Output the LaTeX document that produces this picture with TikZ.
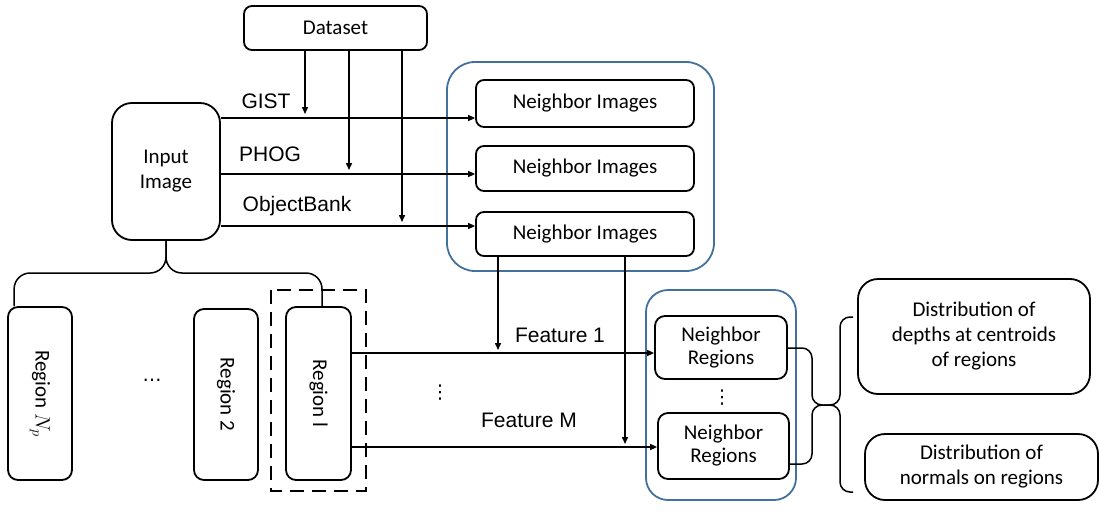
\documentclass[tikz,border=0pt]{standalone}
\usepackage{fontspec}
\setmainfont{Carlito}
\newfontfamily\arialf{Liberation Sans}
\newfontfamily\symf{DejaVu Sans}
\usetikzlibrary{arrows.meta,calc}
\definecolor{frameblue}{HTML}{41719C}
\begin{document}
\begin{tikzpicture}[x=1pt,y=-1pt,
  txt/.style={font=\fontsize{21}{25}\selectfont},
  lbl/.style={font=\arialf\fontsize{21}{25}\selectfont, inner sep=0pt},
  box/.style={draw, line width=1.8pt, rounded corners=8pt, align=center, inner sep=0pt, txt},
  group/.style={draw=frameblue, line width=1.8pt},
  conn/.style={line width=1.5pt},
  arr/.style={conn, -{Triangle[length=7pt,width=6pt]}},
  regbox/.style={box, rotate=-90, rounded corners=10pt},
  dotmark/.style={inner sep=0pt, font=\symf\fontsize{19}{20}\selectfont}]
\useasboundingbox (0,0) rectangle (1100,514);

% groups of neighbours
\draw[group, rounded corners=28pt] (447,62) rectangle (714,271);
\draw[group, rounded corners=22pt] (646,290) rectangle (796,500);
\draw[line width=1.8pt, dash pattern=on 14pt off 8pt] (271,290) rectangle (366,491);

% boxes
\node[box, minimum width=183pt, minimum height=44pt] (ds) at (335.5,28) {Dataset};
\node[box, rounded corners=20pt, minimum width=108pt, minimum height=137pt] (inp) at (166,171.5) {Input\\Image};
\node[box, minimum width=218pt, minimum height=47pt] (ni1) at (585,103.5) {Neighbor Images};
\node[box, minimum width=218pt, minimum height=45pt] (ni2) at (585,168.5) {Neighbor Images};
\node[box, minimum width=218pt, minimum height=44pt] (ni3) at (585,234) {Neighbor Images};

% region boxes (turned: west is the top edge, north the right edge)
\node[regbox, minimum width=173pt, minimum height=64pt] (rn) at (40,393.5) {Region $N_p$};
\node[regbox, minimum width=171pt, minimum height=64pt] (r2) at (226,394.5) {Region 2};
\node[regbox, minimum width=173pt, minimum height=65pt] (rl) at (318.5,393.5) {Region l};

\node[box, rounded corners=10pt, minimum width=132pt, minimum height=63pt] (nr1) at (721,347.5) {Neighbor\\[-2pt]Regions};
\node[box, rounded corners=10pt, minimum width=131pt, minimum height=66pt] (nr2) at (723.5,446) {Neighbor\\[-2pt]Regions};

\node[box, rounded corners=20pt, minimum width=232pt, minimum height=115pt] (d1) at (974,336.5) {Distribution of\\depths at centroids\\of regions};
\node[box, rounded corners=20pt, minimum width=233pt, minimum height=66pt] (d2) at (981.5,467) {Distribution of\\normals on regions};

% dots
\node[dotmark] (dh) at (152,380) {…};
\node[dotmark] (dv1) at (440,393) {⋮};
\node[dotmark] (dv2) at (722,398) {⋮};

% feature labels
\node[lbl] (lg) at (266,101) {GIST};
\node[lbl] (lp) at (270,154) {PHOG};
\node[lbl] (lo) at (297,206) {ObjectBank};
\node[lbl] (lf1) at (560,335) {Feature 1};
\node[lbl] (lfm) at (529,420) {Feature M};

% input image to neighbour images
\coordinate (h1) at (inp.east |- 0,118);
\coordinate (h2) at (inp.east |- 0,174);
\coordinate (h3) at (inp.east |- 0,226);
\draw[arr] (h1) -- (ni1.west |- h1);
\draw[arr] (h2) -- (ni2.west |- h2);
\draw[arr] (h3) -- (ni3.west |- h3);

% dataset feeds
\draw[arr] (ds.south -| 305,0) -- (305,114);
\draw[arr] (ds.south -| 349,0) -- (349,170);
\draw[arr] (ds.south -| 402,0) -- (402,222);

% input image split into regions
\coordinate (rnt) at ($(rn.south west)+(7,0)$);
\coordinate (rlt) at ($(rl.west)+(3.5,0)$);
\draw[conn, rounded corners=16pt] (inp.south) -- (inp.south |- 0,273) -- (rnt |- 0,273) -- (rnt);
\draw[conn, rounded corners=16pt] (inp.south) -- (inp.south |- 0,273) -- (rlt |- 0,273) -- (rlt);

% region features to neighbour regions
\coordinate (f1) at (rl.north |- 0,353);
\coordinate (fm) at (rl.north |- 0,447);
\draw[arr] (f1) -- (nr1.west |- f1);
\draw[arr] (fm) -- (nr2.west |- fm);
\draw[arr] (ni3.south -| 498,0) -- (498,350);
\draw[arr] (ni3.south -| 625,0) -- (625,444);

% braces to the distributions
\coordinate (tip) at (828,405);
\draw[conn, rounded corners=10pt] (nr1.east |- 0,348) -- (812,348) -- (812,405) -- (tip);
\draw[conn, rounded corners=10pt] (nr2.east |- 0,464) -- (812,464) -- (812,405) -- (tip);
\draw[conn, rounded corners=10pt] (853,317) -- (840,317) -- (840,405) -- (tip);
\draw[conn, rounded corners=10pt] (853,492) -- (840,492) -- (840,405) -- (tip);
\end{tikzpicture}
\end{document}
